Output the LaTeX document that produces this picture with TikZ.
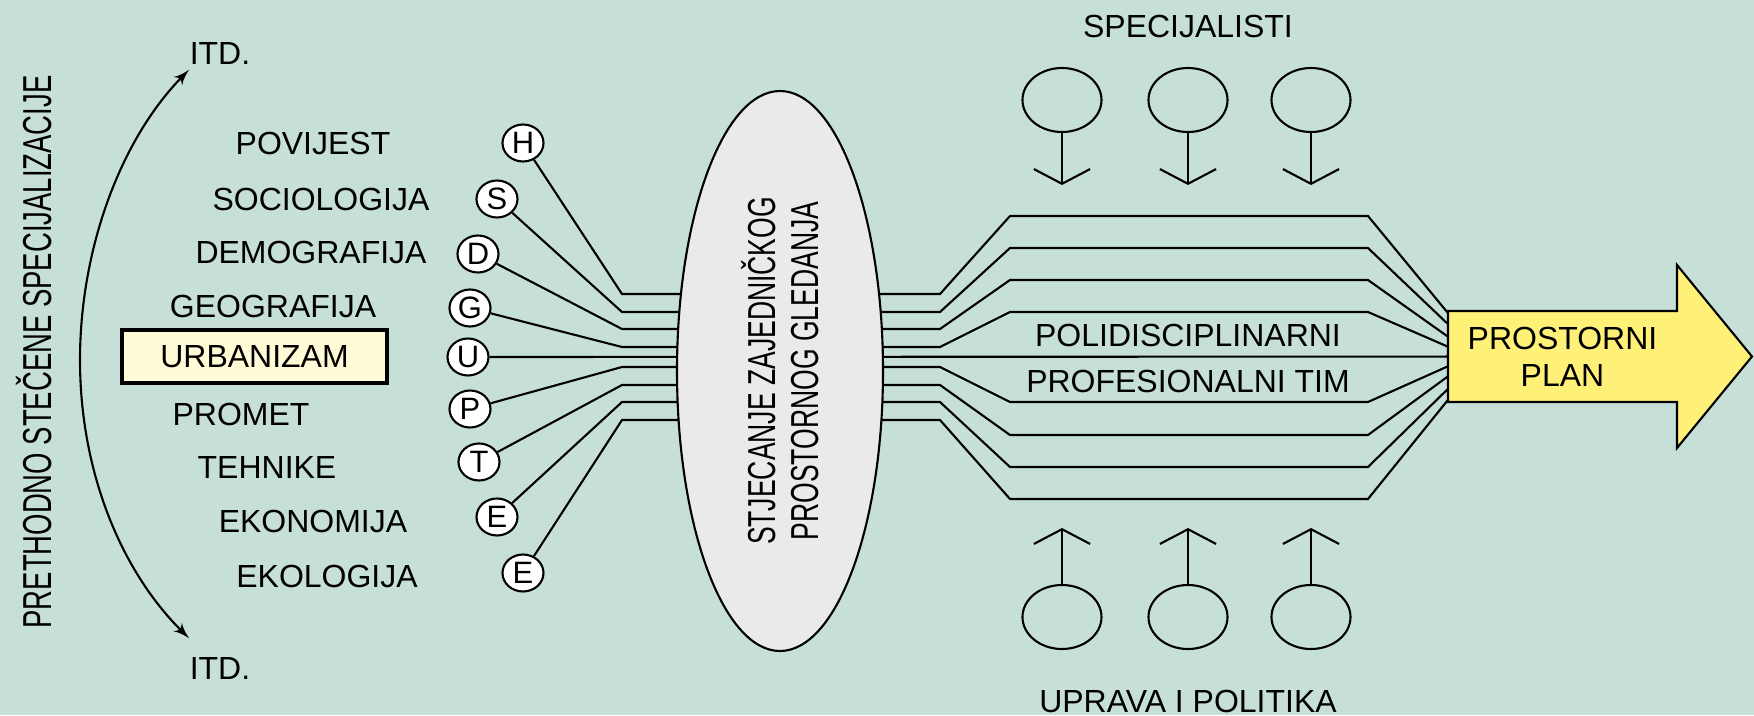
\documentclass[tikz,border=0pt]{standalone}
\usepackage{fontspec}
\setmainfont{Liberation Sans}
\newfontfamily\narrowfont[FakeStretch=0.68]{Liberation Sans}
\usepackage{tikz}
\usetikzlibrary{arrows,arrows.meta,shapes.geometric}
\definecolor{mint}{RGB}{199,224,215}
\definecolor{mist}{RGB}{234,234,236}
\definecolor{lemon}{RGB}{255,241,120}
\definecolor{cream}{RGB}{255,251,215}
\tikzset{
    auto,
    subject/.style = {
        shape=rectangle,
        inner sep=0pt,
        font=\fontsize{9.1}{10.5}\selectfont
    },
    letter/.style = {
        draw,
        shape=ellipse,
        fill=white,
        minimum width=0.41cm,
        minimum height=0.37cm,
        inner sep=0pt,
        line width=0.6pt,
        font=\fontsize{8.8}{10}\selectfont
    },
    mainbox/.style = {
        draw,
        shape=rectangle,
        fill=cream,
        minimum width=2.65cm,
        minimum height=0.53cm,
        line width=0.9pt,
        font=\fontsize{9.1}{10.5}\selectfont
    },
    vision/.style = {
        draw,
        shape=ellipse,
        fill=mist,
        minimum width=5.60cm,
        minimum height=2.06cm,
        inner sep=0pt,
        align=center,
        line width=0.6pt,
        font=\narrowfont\fontsize{11.1}{12.2}\selectfont
    },
    person/.style = {
        draw,
        shape=ellipse,
        minimum width=0.79cm,
        minimum height=0.64cm,
        line width=0.6pt
    },
    planbody/.style = {
        shape=rectangle,
        minimum width=2.29cm,
        minimum height=0.91cm,
        align=center,
        font=\fontsize{9.1}{10.5}\selectfont
    },
    wire/.style = {line width=0.6pt},
    feed/.style = {-{Straight Barb[length=4.2pt,width=16pt]}, line width=0.6pt},
    >=latex',
}

\begin{document}
\begin{tikzpicture}
    \path[use as bounding box, fill=mint] (0,0) rectangle (17.54,7.15);

    % left side
    \node[subject, rotate=90, font=\narrowfont\fontsize{11.5}{13}\selectfont] (prethodno) at (0.34, 3.63) {PRETHODNO STEČENE SPECIJALIZACIJE};
    \node[subject] (itdtop) at (2.20, 6.62) {ITD.};
    \node[subject] (itdbot) at (2.20, 0.47) {ITD.};
    \path[draw, <->, line width=0.6pt] ([yshift=1.8mm]itdbot.north west) .. controls (1.20,1.45) and (0.80,2.45) .. (0.80,3.55) .. controls (0.80,4.65) and (1.20,5.75) .. ([yshift=-0.5mm]itdtop.south west);

    \node[subject] (povijest)    at (3.13, 5.72) {POVIJEST};
    \node[subject] (sociologija) at (3.21, 5.16) {SOCIOLOGIJA};
    \node[subject] (demografija) at (3.11, 4.63) {DEMOGRAFIJA};
    \node[subject] (geografija)  at (2.73, 4.09) {GEOGRAFIJA};
    \node[mainbox] (urbanizam)   at (2.545, 3.585) {URBANIZAM};
    \node[subject] (promet)      at (2.41, 3.01) {PROMET};
    \node[subject] (tehnike)     at (2.67, 2.48) {TEHNIKE};
    \node[subject] (ekonomija)   at (3.13, 1.94) {EKONOMIJA};
    \node[subject] (ekologija)   at (3.27, 1.39) {EKOLOGIJA};

    \node[letter] (cH)  at (5.23, 5.72) {H};
    \node[letter] (cS)  at (4.97, 5.16) {S};
    \node[letter] (cD)  at (4.78, 4.61) {D};
    \node[letter] (cG)  at (4.70, 4.07) {G};
    \node[letter] (cU)  at (4.68, 3.58) {U};
    \node[letter] (cP)  at (4.70, 3.06) {P};
    \node[letter] (cT)  at (4.79, 2.53) {T};
    \node[letter] (cEn) at (4.97, 1.98) {E};
    \node[letter] (cEl) at (5.23, 1.42) {E};

    % result arrow
    \filldraw[fill=lemon, line width=0.6pt, line join=miter] (14.48,4.04) -- (16.77,4.04) -- (16.77,4.50) -- (17.52,3.585) -- (16.77,2.67) -- (16.77,3.13) -- (14.48,3.13) -- cycle;
    \node[planbody] (plan) at (15.625, 3.585) {PROSTORNI\\PLAN};

    % wires
    \path[draw, wire] (cH)  -- (6.22,4.21) -- (9.40,4.21) -- (10.10,4.99) -- (13.68,4.99) -- (plan.159);
    \path[draw, wire] (cS)  -- (6.22,4.03) -- (9.40,4.03) -- (10.10,4.67) -- (13.68,4.67) -- (plan.164);
    \path[draw, wire] (cD)  -- (6.22,3.86) -- (9.40,3.86) -- (10.10,4.35) -- (13.68,4.35) -- (plan.170);
    \path[draw, wire] (cG)  -- (6.22,3.68) -- (9.40,3.68) -- (10.10,4.03) -- (13.68,4.03) -- (plan.175);
    \path[draw, wire] (cU)  -- (plan);
    \path[draw, wire] (cP)  -- (6.22,3.48) -- (9.40,3.48) -- (10.10,3.13) -- (13.68,3.13) -- (plan.185);
    \path[draw, wire] (cT)  -- (6.22,3.30) -- (9.40,3.30) -- (10.10,2.80) -- (13.68,2.80) -- (plan.190);
    \path[draw, wire] (cEn) -- (6.22,3.13) -- (9.40,3.13) -- (10.10,2.48) -- (13.68,2.48) -- (plan.196);
    \path[draw, wire] (cEl) -- (6.22,2.95) -- (9.40,2.95) -- (10.10,2.16) -- (13.68,2.16) -- (plan.201);

    \node[vision, rotate=90] (vision) at (7.80, 3.44) {STJECANJE ZAJEDNIČKOG\\PROSTORNOG GLEDANJA};

    \node[subject] (poli) at (11.88, 3.80) {POLIDISCIPLINARNI};
    \node[subject] (prof) at (11.88, 3.34) {PROFESIONALNI TIM};

    % specialists and administration
    \node[subject] (specijalisti) at (11.88, 6.89) {SPECIJALISTI};
    \node[person] (spec1) at (10.62, 6.15) {};
    \node[person] (spec2) at (11.88, 6.15) {};
    \node[person] (spec3) at (13.11, 6.15) {};
    \coordinate (in1) at (10.62, 5.30);
    \coordinate (in2) at (11.88, 5.30);
    \coordinate (in3) at (13.11, 5.30);
    \path[draw, feed] (spec1) -- (in1);
    \path[draw, feed] (spec2) -- (in2);
    \path[draw, feed] (spec3) -- (in3);

    \node[subject] (uprava) at (11.88, 0.14) {UPRAVA I POLITIKA};
    \node[person] (upr1) at (10.62, 0.98) {};
    \node[person] (upr2) at (11.88, 0.98) {};
    \node[person] (upr3) at (13.11, 0.98) {};
    \coordinate (out1) at (10.62, 1.87);
    \coordinate (out2) at (11.88, 1.87);
    \coordinate (out3) at (13.11, 1.87);
    \path[draw, feed] (upr1) -- (out1);
    \path[draw, feed] (upr2) -- (out2);
    \path[draw, feed] (upr3) -- (out3);
\end{tikzpicture}
\end{document}
